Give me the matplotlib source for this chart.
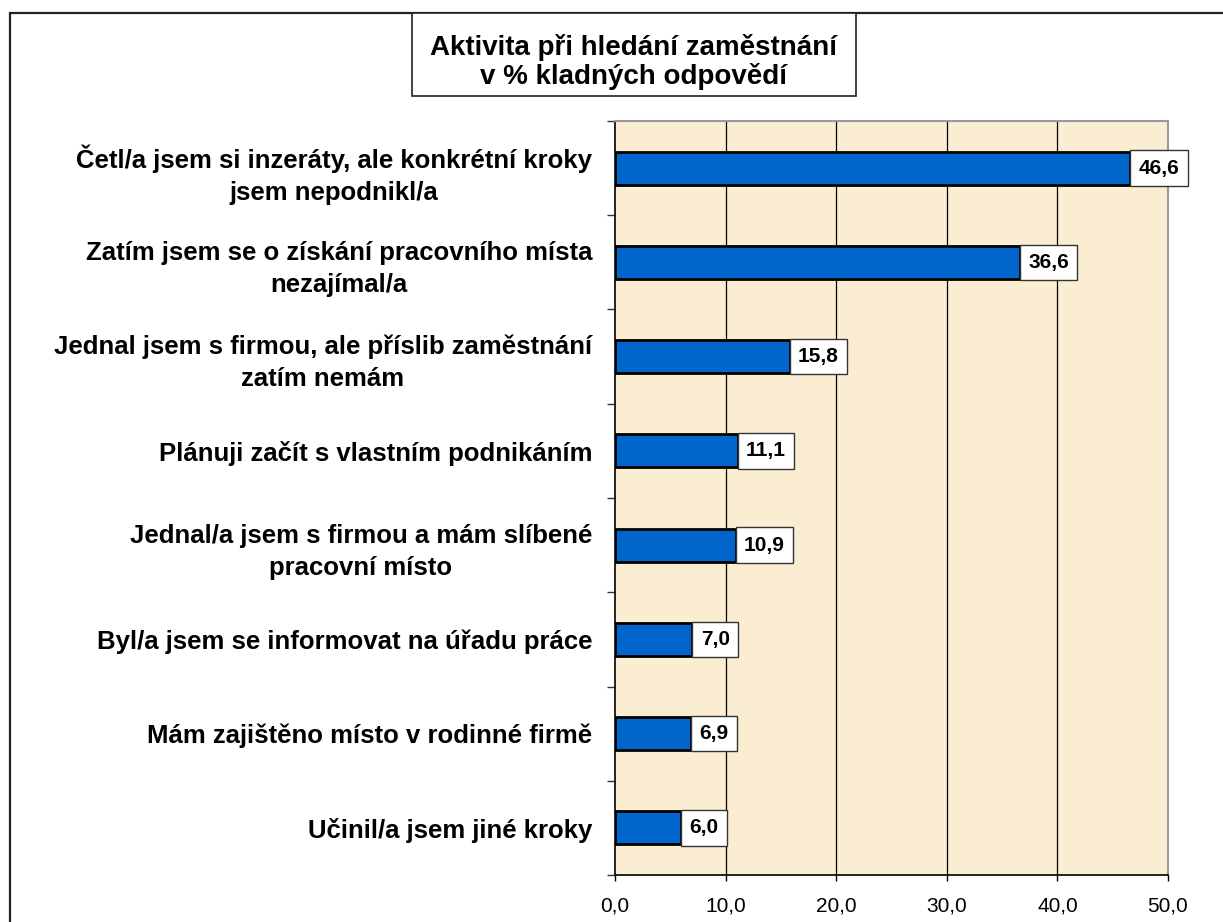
"""Horizontal bar chart: job-search activity, % of positive answers."""
import matplotlib
matplotlib.use("Agg")  # noqa: E402
import matplotlib.pyplot as plt
from matplotlib.patches import Rectangle

CATEGORIES = [
    "Četl/a jsem si inzeráty, ale konkrétní kroky\njsem nepodnikl/a",
    "Zatím jsem se o získání pracovního místa\nnezajímal/a",
    "Jednal jsem s firmou, ale příslib zaměstnání\nzatím nemám",
    "Plánuji začít s vlastním podnikáním",
    "Jednal/a jsem s firmou a mám slíbené\npracovní místo",
    "Byl/a jsem se informovat na úřadu práce",
    "Mám zajištěno místo v rodinné firmě",
    "Učinil/a jsem jiné kroky",
]
VALUES = [46.6, 36.6, 15.8, 11.1, 10.9, 7.0, 6.9, 6.0]
XTICKS = [0, 10, 20, 30, 40, 50]
TITLE = "Aktivita při hledání zaměstnání\nv % kladných odpovědí"

plt.rcParams["font.family"] = ["Liberation Sans", "DejaVu Sans"]

W, H = 1223, 922
fig = plt.figure(figsize=(W / 100, H / 100), dpi=100)

# outer frame (runs off the right and bottom edges)
fig.patches.append(Rectangle((10 / W, -0.1), 1.2, 1 - 13 / H + 0.1,
                             transform=fig.transFigure, fill=False,
                             edgecolor="#222222", linewidth=1.6))

ax = fig.add_axes([615 / W, 1 - 875 / H, (1168 - 615) / W, (875 - 121) / H])
ax.set_facecolor("#FBEDD2")

y = list(range(len(CATEGORIES)))
ax.barh(y, VALUES, height=0.35, color="#0066CC", edgecolor="black",
        linewidth=2, zorder=3)
ax.set_ylim(len(CATEGORIES) - 0.5, -0.5)
ax.set_xlim(0, 50)

ax.set_xticks(XTICKS)
ax.set_xticklabels([f"{v:.1f}".replace(".", ",") for v in XTICKS], fontsize=15)
ax.set_yticks(y)
ax.set_yticklabels(CATEGORIES, fontsize=18.5, fontweight="bold",
                   multialignment="center", linespacing=1.42)
ax.set_yticks([i + 0.5 for i in range(-1, len(CATEGORIES))], minor=True)
ax.tick_params(axis="y", which="major", length=0, pad=16.5)
ax.tick_params(axis="y", which="minor", length=6, width=1, color="#333333")
ax.tick_params(axis="x", length=4.5, width=1, direction="out", pad=11)

for x in XTICKS[1:-1]:
    ax.axvline(x, color="black", linewidth=0.9, zorder=1)

for side in ("top", "right"):
    ax.spines[side].set_color("#999999")
    ax.spines[side].set_linewidth(1.5)
for side in ("left", "bottom"):
    ax.spines[side].set_color("black")
    ax.spines[side].set_linewidth(1.2)

for yi, v in zip(y, VALUES):
    ax.annotate(f"{v:.1f}".replace(".", ","), (v, yi), xytext=(6, 0),
                textcoords="offset points", va="center", ha="left",
                fontsize=15, fontweight="bold", zorder=4,
                bbox=dict(boxstyle="square,pad=0.4", facecolor="white",
                          edgecolor="#333333", linewidth=1))

# title box
fig.patches.append(Rectangle((412 / W, 1 - 96 / H), (856 - 412) / W, (96 - 13) / H,
                             transform=fig.transFigure, facecolor="white",
                             edgecolor="#222222", linewidth=1.2))
fig.text(634 / W, 1 - 62 / H, TITLE, ha="center", va="center",
         fontsize=20, fontweight="bold", linespacing=1.05)

fig.savefig("out.png", dpi=100)
plt.close(fig)
